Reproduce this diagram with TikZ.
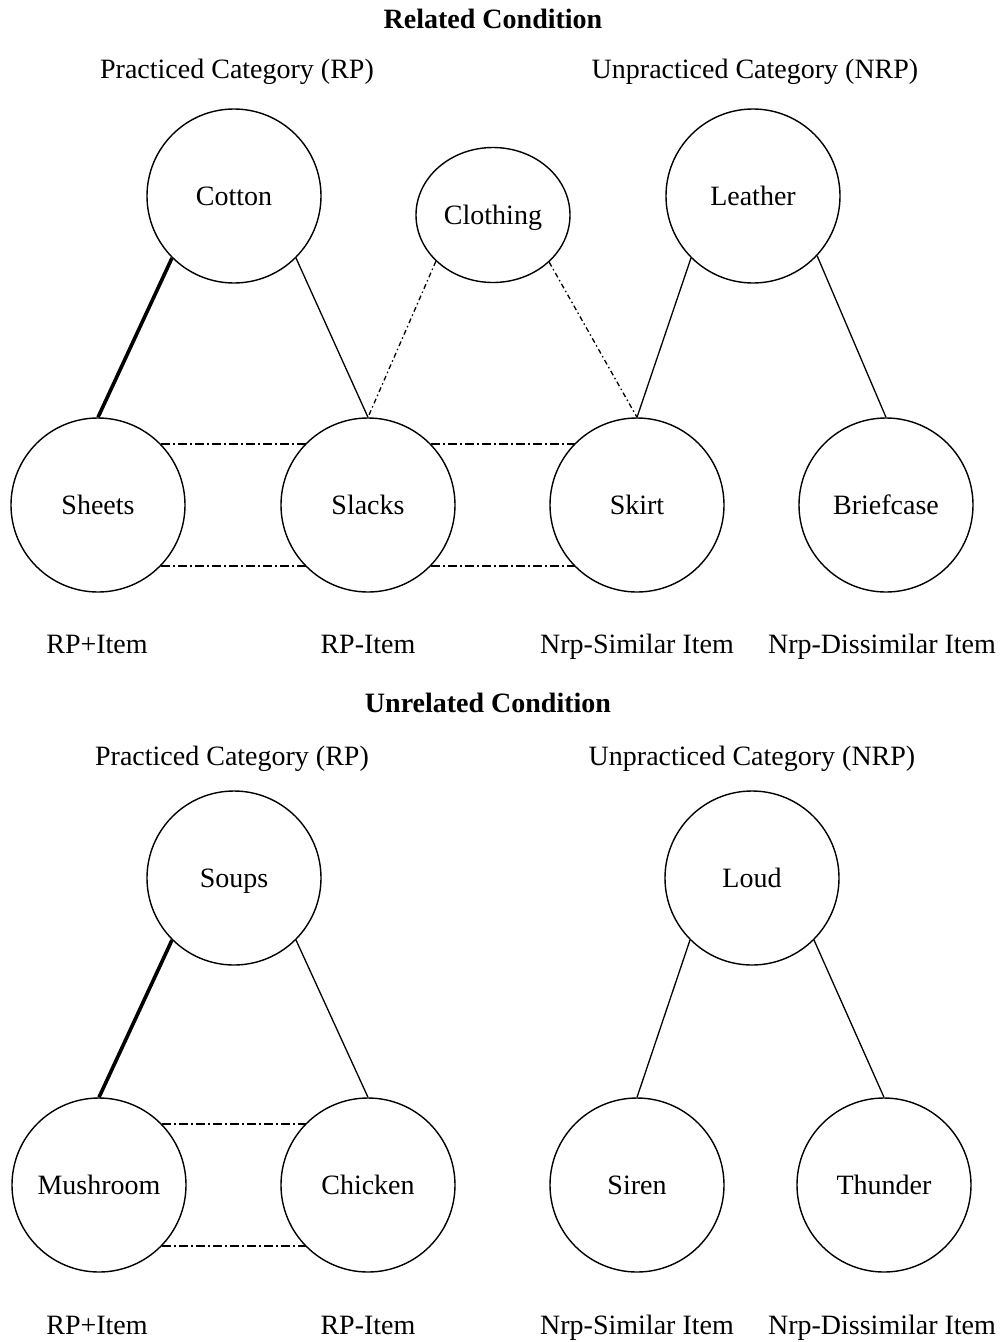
\documentclass[tikz,border=0pt]{standalone}
\usepackage{fontspec}
\setmainfont{Liberation Serif}
\usetikzlibrary{shapes.geometric}
\begin{document}
\begin{tikzpicture}[x=1pt,y=-1pt,
  circ/.style={draw, circle, line width=1.4pt, minimum size=174pt, inner sep=0pt, text height=25pt, text depth=6pt, font=\fontsize{28}{30}\selectfont},
  ell/.style={draw, ellipse, line width=1.4pt, minimum width=154pt, minimum height=135pt, inner sep=0pt, text height=25pt, text depth=6pt, font=\fontsize{28}{30}\selectfont},
  lbl/.style={font=\fontsize{28}{30}\selectfont, inner sep=0pt, text height=25pt, text depth=6pt},
  ttl/.style={font=\fontsize{28}{30}\selectfont\bfseries, inner sep=0pt, text height=25pt, text depth=6pt},
  thin/.style={line width=1.3pt},
  thick/.style={line width=3.6pt},
  dd/.style={line width=1.3pt, dash pattern=on 9pt off 3pt on 2pt off 3pt},
  ddc/.style={line width=1.3pt, dash pattern=on 5pt off 3pt on 1.5pt off 3pt}]
\useasboundingbox (0,0) rectangle (1008,1342);
% Related condition
\node[ttl] (t1) at (493,19) {Related Condition};
\node[lbl] (rp1) at (237,69) {Practiced Category (RP)};
\node[lbl] (nrp1) at (755,69) {Unpracticed Category (NRP)};
\node[circ] (cotton) at (234,196) {Cotton};
\node[ell] (clothing) at (493,215) {Clothing};
\node[circ] (leather) at (753,196) {Leather};
\node[circ] (sheets) at (98,505) {Sheets};
\node[circ] (slacks) at (368,505) {Slacks};
\node[circ] (skirt) at (637,505) {Skirt};
\node[circ] (briefcase) at (886,505) {Briefcase};
\node[lbl] (l1) at (97,644) {RP+Item};
\node[lbl] (l2) at (368,644) {RP-Item};
\node[lbl] (l3) at (637,644) {Nrp-Similar Item};
\node[lbl] (l4) at (882,644) {Nrp-Dissimilar Item};
\draw[thick] (cotton.-135) -- (sheets.north);
\draw[thin] (cotton.-45) -- (slacks.north);
\draw[ddc] (clothing.-141) -- (slacks.north);
\draw[ddc] (clothing.-40) -- (skirt.north);
\draw[thin] (leather.-135) -- (skirt.north);
\draw[thin] (leather.-43) -- (briefcase.north);
\draw[dd] (sheets.44.5) -- (sheets.44.5 -| slacks.135.5);
\draw[dd] (sheets.-44.5) -- (sheets.-44.5 -| slacks.-135.5);
\draw[dd] (slacks.44.5) -- (slacks.44.5 -| skirt.135.5);
\draw[dd] (slacks.-44.5) -- (slacks.-44.5 -| skirt.-135.5);
% Unrelated condition
\node[ttl] (t2) at (488,703) {Unrelated Condition};
\node[lbl] (rp2) at (232,756) {Practiced Category (RP)};
\node[lbl] (nrp2) at (752,756) {Unpracticed Category (NRP)};
\node[circ] (soups) at (234,878) {Soups};
\node[circ] (loud) at (752,878) {Loud};
\node[circ] (mushroom) at (99,1185) {Mushroom};
\node[circ] (chicken) at (368,1185) {Chicken};
\node[circ] (siren) at (637,1185) {Siren};
\node[circ] (thunder) at (884,1185) {Thunder};
\node[lbl] (m1) at (97,1325) {RP+Item};
\node[lbl] (m2) at (368,1325) {RP-Item};
\node[lbl] (m3) at (637,1325) {Nrp-Similar Item};
\node[lbl] (m4) at (882,1325) {Nrp-Dissimilar Item};
\draw[thick] (soups.-135) -- (mushroom.north);
\draw[thin] (soups.-45) -- (chicken.north);
\draw[thin] (loud.-135) -- (siren.north);
\draw[thin] (loud.-45) -- (thunder.north);
\draw[dd] (mushroom.44.5) -- (mushroom.44.5 -| chicken.135.5);
\draw[dd] (mushroom.-44.5) -- (mushroom.-44.5 -| chicken.-135.5);
\end{tikzpicture}
\end{document}
